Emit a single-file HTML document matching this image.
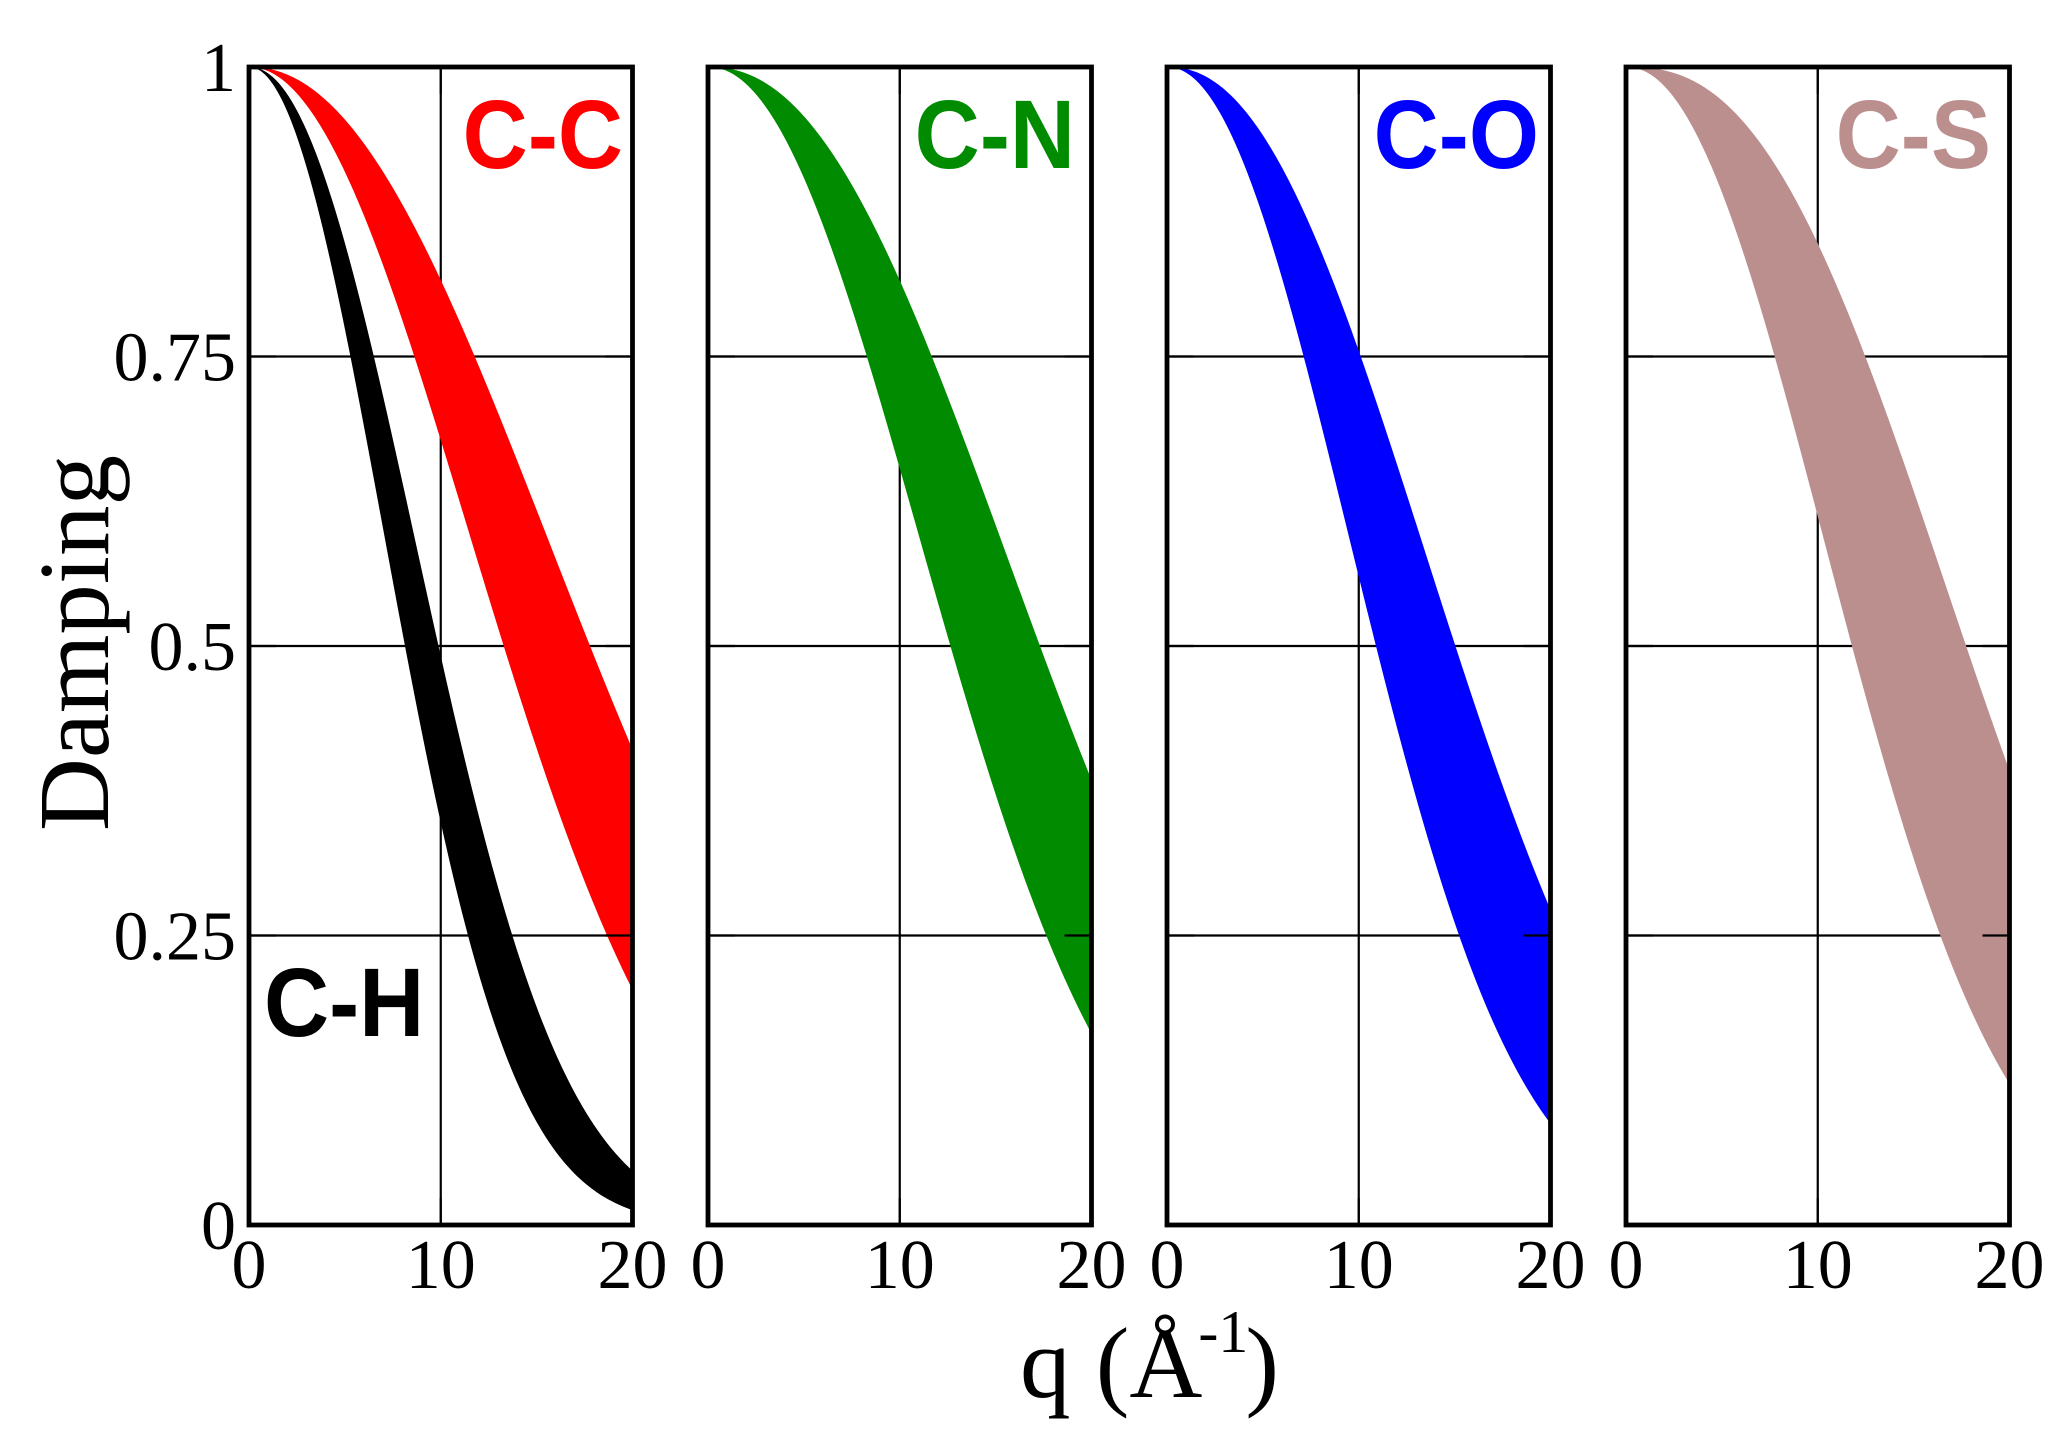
<!DOCTYPE html>
<html>
<head>
<meta charset="utf-8">
<style>
  html, body { margin: 0; padding: 0; background: #ffffff; }
  svg { display: block; }
  .tick { font-family: "Liberation Serif", serif; font-size: 70px; fill: #000; }
  .lab { font-family: "Liberation Sans", sans-serif; font-weight: bold; font-size: 97px; }
  .axt { font-family: "Liberation Serif", serif; font-size: 101px; fill: #000; }
</style>
</head>
<body>
<svg id="chart" width="2070" height="1455" viewBox="0 0 2070 1455" xmlns="http://www.w3.org/2000/svg">
  <rect x="0" y="0" width="2070" height="1455" fill="#ffffff"/>
  <g id="grids"></g>
  <g id="fills"></g>
  <g id="frames"></g>

  <!-- y tick labels -->
  <text class="tick" x="236" y="91" text-anchor="end">1</text>
  <text class="tick" x="236" y="380.5" text-anchor="end">0.75</text>
  <text class="tick" x="236" y="670" text-anchor="end">0.5</text>
  <text class="tick" x="236" y="959.5" text-anchor="end">0.25</text>
  <text class="tick" x="236" y="1249" text-anchor="end">0</text>

  <!-- x tick labels -->
  <g id="xlabels"></g>

  <!-- panel labels -->
  <text class="lab" transform="translate(623,168) scale(0.93,1)" text-anchor="end" fill="#ff0000">C-C</text>
  <text class="lab" transform="translate(1075,168) scale(0.93,1)" text-anchor="end" fill="#008b00">C-N</text>
  <text class="lab" transform="translate(1539,168) scale(0.93,1)" text-anchor="end" fill="#0000ff">C-O</text>
  <text class="lab" transform="translate(1991,168) scale(0.93,1)" text-anchor="end" fill="#bc8f8f">C-S</text>
  <text class="lab" transform="translate(264,1036) scale(0.93,1)" fill="#000000">C-H</text>

  <!-- axis titles -->
  <text class="axt" transform="translate(108,643) rotate(-90)" text-anchor="middle">Damping</text>
  <text class="axt" x="1020" y="1397">q (Å<tspan font-size="60px" dx="-4" dy="-45">-1</tspan><tspan dx="-3" dy="45">)</tspan></text>
</svg>
<script>
(function(){
  var NS = "http://www.w3.org/2000/svg";
  var TOP = 67, BOT = 1225, W = 383.5;
  var lefts = [249, 708, 1167, 1626];
  function Y(v){ return TOP + (1 - v) * (BOT - TOP); }
  function el(name, attrs, parent){
    var e = document.createElementNS(NS, name);
    for (var k in attrs) e.setAttribute(k, attrs[k]);
    parent.appendChild(e);
    return e;
  }
  var grids = document.getElementById('grids');
  var fills = document.getElementById('fills');
  var frames = document.getElementById('frames');
  var xl = document.getElementById('xlabels');

  var bands = [
    [
      {col:'#ff0000', up:[2.13,0.001507], lo:[2.035,0.003588]},
      {col:'#000000', up:[2.107,0.005553], lo:[2.043,0.00957]}
    ],
    [ {col:'#008b00', up:[2.23,0.0012], lo:[2.08,0.00354]} ],
    [ {col:'#0000ff', up:[2.21,0.001734], lo:[2.07,0.004937]} ],
    [ {col:'#bc8f8f', up:[2.5,0.000523], lo:[2.10,0.0039]} ]
  ];

  function f(par, q){ return Math.exp(-par[1] * Math.pow(q, par[0])); }

  lefts.forEach(function(L, i){
    var R = L + W;
    function X(q){ return L + q / 20 * W; }
    [0.25, 0.5, 0.75].forEach(function(v){
      el('line', {x1:L, x2:R, y1:Y(v), y2:Y(v), stroke:'#000', 'stroke-width':2.2}, grids);
    });
    el('line', {x1:X(10), x2:X(10), y1:TOP, y2:BOT, stroke:'#000', 'stroke-width':2.2}, grids);

    bands[i].forEach(function(b){
      var d = '';
      var n = 200;
      for (var k = 0; k <= n; k++){
        var q = 20 * k / n;
        d += (k === 0 ? 'M' : 'L') + X(q).toFixed(2) + ',' + Y(f(b.up, q)).toFixed(2);
      }
      for (var k = n; k >= 0; k--){
        var q = 20 * k / n;
        d += 'L' + X(q).toFixed(2) + ',' + Y(f(b.lo, q)).toFixed(2);
      }
      d += 'Z';
      el('path', {d:d, fill:b.col, stroke:'none'}, fills);
    });

    var tl = 27;
    [0.25, 0.5, 0.75].forEach(function(v){
      el('line', {x1:L, x2:L+tl, y1:Y(v), y2:Y(v), stroke:'#000', 'stroke-width':2.2}, frames);
      el('line', {x1:R-tl, x2:R, y1:Y(v), y2:Y(v), stroke:'#000', 'stroke-width':2.2}, frames);
    });
    el('line', {x1:X(10), x2:X(10), y1:BOT-tl, y2:BOT, stroke:'#000', 'stroke-width':2.2}, frames);
    el('line', {x1:X(10), x2:X(10), y1:TOP, y2:TOP+tl, stroke:'#000', 'stroke-width':2.2}, frames);

    el('rect', {x:L, y:TOP, width:W, height:BOT-TOP, fill:'none', stroke:'#000', 'stroke-width':4.8}, frames);

    [[0,'0'],[10,'10'],[20,'20']].forEach(function(t){
      var tx = el('text', {x:X(t[0]), y:1288, 'text-anchor':'middle', 'class':'tick'}, xl);
      tx.textContent = t[1];
    });
  });
})();
</script>
</body>
</html>
